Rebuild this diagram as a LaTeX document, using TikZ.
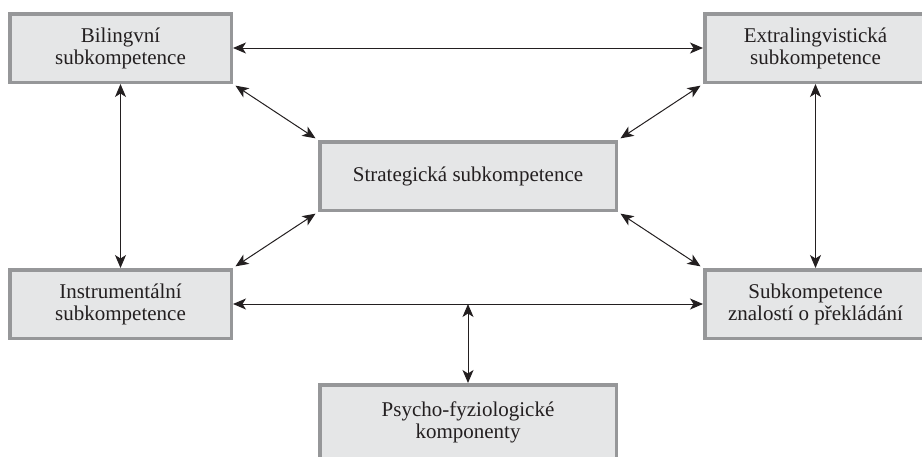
\documentclass[tikz,border=0pt]{standalone}
\usepackage{fontspec}
\setmainfont{Liberation Serif}
\usetikzlibrary{arrows.meta}
\definecolor{boxfill}{RGB}{229,230,231}
\definecolor{boxedge}{RGB}{150,151,153}
\definecolor{ink}{RGB}{35,31,32}
\tikzset{
  comp/.style={draw=boxedge, fill=boxfill, line width=3.5pt, inner sep=0pt,
    align=center, text=ink, font=\fontsize{21}{22}\selectfont,
    minimum width=221.5pt, minimum height=68.5pt},
  wide/.style={comp, minimum width=296.5pt},
  link/.style={draw=ink, line width=1pt,
    {Stealth[length=13pt,width=11pt,inset=3.5pt]}-{Stealth[length=13pt,width=11pt,inset=3.5pt]}},
  diag/.style={link, shorten <=3pt, shorten >=3pt}
}
\begin{document}
\begin{tikzpicture}[x=1pt,y=-1pt]
  \useasboundingbox (0,0) rectangle (922,456);
  % component boxes
  \node[comp] (bil) at (120.5,48) {Bilingvní\\subkompetence};
  \node[comp] (ext) at (815.5,48) {Extralingvistická\\subkompetence};
  \node[wide] (str) at (468,176) {Strategická subkompetence};
  \node[comp] (ins) at (120.5,304) {Instrumentální\\subkompetence};
  \node[comp] (zna) at (815.5,304) {Subkompetence\\znalostí o překládání};
  \node[wide, minimum height=75.5pt] (psy) at (468,422.5) {Psycho-fyziologické\\komponenty};
  % relations between the components
  \draw[link] (bil.east) -- (ext.west);
  \draw[link] (ins.east) -- (zna.west);
  \draw[link] (bil) -- (ins);
  \draw[link] (ext) -- (zna);
  \draw[diag] (bil.south east) -- (str.north west);
  \draw[diag] (ext.south west) -- (str.north east);
  \draw[diag] (str.south west) -- (ins.north east);
  \draw[diag] (str.south east) -- (zna.north west);
  \coordinate (mid) at (psy.north |- ins.east);
  \draw[link] (mid) -- (psy.north);
\end{tikzpicture}
\end{document}
